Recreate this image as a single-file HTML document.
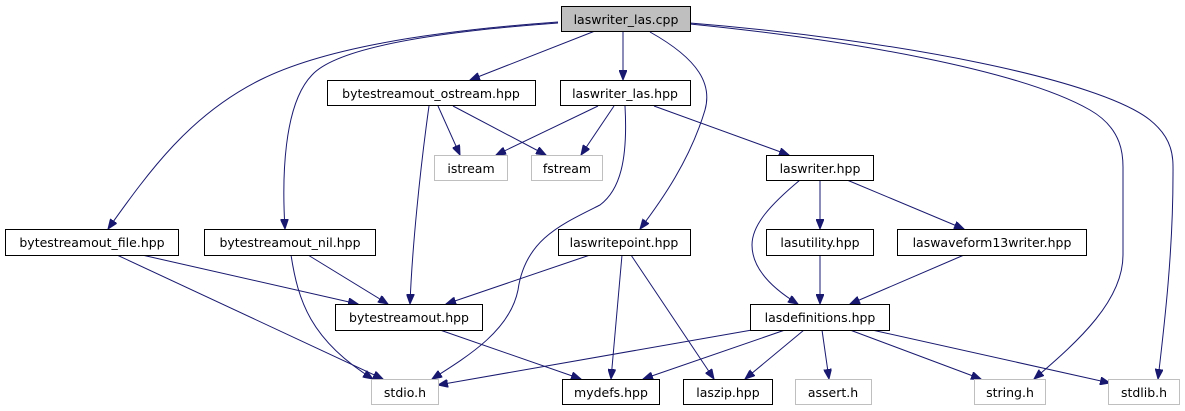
<!DOCTYPE html>
<html><head><meta charset="utf-8"><style>
html,body{margin:0;padding:0;background:#fff;}
svg{display:block;}
text{font-family:"DejaVu Sans","Liberation Sans",sans-serif;font-size:12.5px;fill:#000;text-anchor:middle;}
.b{fill:#fff;stroke:#000;stroke-width:1}
.g{fill:#fff;stroke:#bfbfbf;stroke-width:1}
.e{fill:none;stroke:#191970;stroke-width:1;marker-end:url(#a)}
</style></head><body>
<svg width="1185" height="411" viewBox="0 0 1185 411" xmlns="http://www.w3.org/2000/svg">
<defs><marker id="a" markerUnits="userSpaceOnUse" markerWidth="11" markerHeight="8" refX="10" refY="4" orient="auto"><path d="M0,0 L10,4 L0,8 z" fill="#191970" stroke="#191970"/></marker></defs>
<!-- edges -->
<path class="e" d="M595,31 L470,80"/>
<path class="e" d="M623,31 L623,80"/>
<path class="e" d="M650,32 C700,60 712,85 705,110 C690,160 662,200 640,229"/>
<path class="e" d="M558,22 C420,32 320,50 260,80 C190,115 150,170 108,229"/>
<path class="e" d="M558,23 C420,33 335,50 312,75 C283,105 282,180 285,229"/>
<path class="e" d="M690,24 C850,40 1020,70 1090,110 C1125,130 1123,160 1123,170 L1123,255 C1123,300 1080,340 1034,379"/>
<path class="e" d="M690,23 C900,40 1100,80 1150,120 C1175,140 1173,160 1173,175 C1173,250 1165,320 1158,379"/>
<path class="e" d="M438,106 L460,155"/>
<path class="e" d="M453,106 L546,155"/>
<path class="e" d="M429,106 C420,170 412,250 410,304"/>
<path class="e" d="M598,106 L496,155"/>
<path class="e" d="M614,106 L581,155"/>
<path class="e" d="M654,106 L789,155"/>
<path class="e" d="M625,106 C628,160 620,190 600,205 C560,225 525,240 518,290 C510,330 470,355 432,379"/>
<path class="e" d="M800,180 C770,205 752,225 752,245 C752,270 775,290 798,304"/>
<path class="e" d="M820,180 L820,229"/>
<path class="e" d="M847,180 L964,229"/>
<path class="e" d="M820,255 L820,304"/>
<path class="e" d="M964,255 L850,304"/>
<path class="e" d="M142,255 L358,304"/>
<path class="e" d="M117,255 L383,379"/>
<path class="e" d="M308,255 L388,304"/>
<path class="e" d="M291,255 C298,300 310,340 373,379"/>
<path class="e" d="M590,255 L446,304"/>
<path class="e" d="M622,255 L611,379"/>
<path class="e" d="M631,255 L714,379"/>
<path class="e" d="M440,330 L581,379"/>
<path class="e" d="M752,330 L438,385"/>
<path class="e" d="M785,330 L643,379"/>
<path class="e" d="M804,330 L745,379"/>
<path class="e" d="M822,330 L829,379"/>
<path class="e" d="M850,330 L981,379"/>
<path class="e" d="M872,330 L1110,383"/>
<!-- nodes -->
<rect x="561.5" y="6.5" width="129" height="25" fill="#bfbfbf" stroke="#000"/><text x="626" y="24">laswriter_las.cpp</text>
<rect class="b" x="327.5" y="80.5" width="208" height="25"/><text x="431" y="98">bytestreamout_ostream.hpp</text>
<rect class="b" x="560.5" y="80.5" width="130" height="25"/><text x="625" y="98">laswriter_las.hpp</text>
<rect class="g" x="434.5" y="155.5" width="73" height="25"/><text x="471" y="173">istream</text>
<rect class="g" x="531.5" y="155.5" width="71" height="25"/><text x="567" y="173">fstream</text>
<rect class="b" x="766.5" y="155.5" width="107" height="25"/><text x="820" y="173">laswriter.hpp</text>
<rect class="b" x="5.5" y="229.5" width="173" height="26"/><text x="92" y="247">bytestreamout_file.hpp</text>
<rect class="b" x="204.5" y="229.5" width="171" height="26"/><text x="290" y="247">bytestreamout_nil.hpp</text>
<rect class="b" x="558.5" y="229.5" width="132" height="26"/><text x="624" y="247">laswritepoint.hpp</text>
<rect class="b" x="766.5" y="229.5" width="107" height="26"/><text x="820" y="247">lasutility.hpp</text>
<rect class="b" x="897.5" y="229.5" width="189" height="26"/><text x="992" y="247">laswaveform13writer.hpp</text>
<rect class="b" x="335.5" y="304.5" width="147" height="26"/><text x="409" y="322">bytestreamout.hpp</text>
<rect class="b" x="750.5" y="304.5" width="139" height="26"/><text x="820" y="322">lasdefinitions.hpp</text>
<rect class="g" x="371.5" y="379.5" width="67" height="25"/><text x="405" y="397">stdio.h</text>
<rect class="b" x="562.5" y="379.5" width="97" height="25"/><text x="611" y="397">mydefs.hpp</text>
<rect class="b" x="683.5" y="379.5" width="89" height="25"/><text x="728" y="397">laszip.hpp</text>
<rect class="g" x="795.5" y="379.5" width="76" height="25"/><text x="833" y="397">assert.h</text>
<rect class="g" x="974.5" y="379.5" width="71" height="25"/><text x="1010" y="397">string.h</text>
<rect class="g" x="1108.5" y="379.5" width="71" height="25"/><text x="1144" y="397">stdlib.h</text>
</svg>
</body></html>
